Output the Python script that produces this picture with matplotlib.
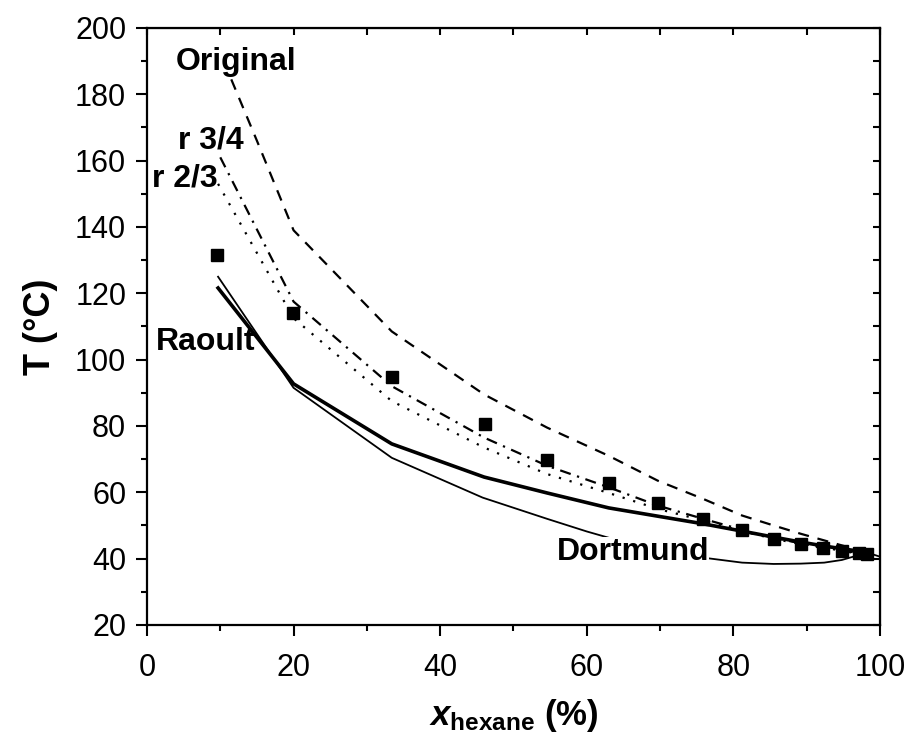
import numpy as np
import matplotlib.pyplot as plt
from matplotlib.ticker import MultipleLocator

plt.rcParams['font.family'] = ['Liberation Sans', 'DejaVu Sans']
plt.rcParams['mathtext.fontset'] = 'custom'
plt.rcParams['mathtext.rm'] = 'Liberation Sans:bold'
plt.rcParams['mathtext.it'] = 'Liberation Sans:bold:italic'

# experimental points
x_exp = [9.5, 19.9, 33.4, 46.1, 54.6, 63.0, 69.7, 75.9, 81.2, 85.5, 89.2, 92.3, 94.8, 97.1, 98.2]
T_exp = [131.6, 114.1, 94.8, 80.5, 69.8, 62.8, 56.8, 52.1, 48.6, 46.0, 44.4, 43.1, 42.3, 41.7, 41.4]

# model curves
x_orig = [11.5, 15.0, 20.0, 33.4, 46.0, 54.6, 63.0, 69.7, 75.9, 81.2, 85.5, 89.2, 92.4, 94.8, 97.0, 98.2]
T_orig = [184.5, 166.0, 139.0, 108.5, 89.5, 79.5, 71.0, 63.5, 58.0, 53.0, 50.0, 47.5, 45.5, 44.0, 42.6, 41.7]

x_r34 = [10.0, 20.0, 33.4, 46.0, 54.6, 63.0, 69.7, 75.9, 81.2, 85.5, 89.2, 92.4, 94.8, 97.0, 98.2]
T_r34 = [161.0, 117.5, 92.0, 76.5, 68.0, 61.5, 56.0, 52.0, 48.7, 46.3, 44.6, 43.3, 42.4, 41.8, 41.4]

x_r23 = [9.7, 20.0, 33.4, 46.0, 54.6, 63.0, 69.7, 75.9, 81.2, 85.5, 89.2, 92.4, 94.8, 97.0, 98.2]
T_r23 = [153.0, 112.5, 87.5, 73.5, 65.5, 59.8, 55.0, 51.5, 48.3, 46.0, 44.4, 43.1, 42.3, 41.6, 41.3]

x_raoult = [9.7, 20.0, 33.4, 46.0, 54.6, 63.0, 69.7, 75.9, 81.2, 85.5, 89.2, 92.4, 94.8, 97.0, 98.2]
T_raoult = [121.6, 92.7, 74.6, 64.6, 59.8, 55.3, 52.8, 50.5, 48.3, 46.5, 45.0, 43.8, 43.0, 42.3, 42.0]

x_dort = [9.7, 20.0, 33.4, 45.8, 54.6, 60.0, 63.0, 69.7, 75.9, 81.2, 85.5, 89.2, 92.4, 94.8, 97.0, 98.6, 100.0]
T_dort = [125.0, 91.5, 70.4, 58.4, 52.0, 48.2, 46.3, 42.8, 40.3, 38.8, 38.4, 38.5, 38.8, 39.6, 41.0, 41.6, 40.6]

fig = plt.figure(figsize=(9.09, 7.42), dpi=100)
ax = fig.add_axes([0.1617, 0.1577, 0.8063, 0.8046])

ax.plot(x_orig, T_orig, color='black', lw=1.6, linestyle=(0, (5, 4)))
ax.plot(x_r34, T_r34, color='black', lw=1.6, linestyle=(0, (5, 3, 1, 3)))
ax.plot(x_r23, T_r23, color='black', lw=1.6, linestyle=(0, (1, 4)))
ax.plot(x_dort, T_dort, color='black', lw=1.3)
ax.plot(x_raoult, T_raoult, color='black', lw=2.6)
ax.plot(x_exp, T_exp, 's', color='black', markersize=8, zorder=5)

tkw = dict(fontsize=23, fontweight='bold', ha='center', va='center')
ax.text(12.1, 189.7, 'Original', **tkw)
ax.text(8.7, 166.2, 'r 3/4', **tkw)
ax.text(5.1, 154.5, 'r 2/3', **tkw)
ax.text(8.0, 105.3, 'Raoult', **tkw)
ax.text(66.3, 42.0, 'Dortmund', zorder=6,
        bbox=dict(facecolor='white', edgecolor='none', pad=0.3), **tkw)

ax.set_xlim(0, 100)
ax.set_ylim(20, 200)
ax.xaxis.set_major_locator(MultipleLocator(20))
ax.xaxis.set_minor_locator(MultipleLocator(10))
ax.yaxis.set_major_locator(MultipleLocator(20))
ax.yaxis.set_minor_locator(MultipleLocator(10))
ax.tick_params(which='major', direction='out', length=8, width=1.5, labelsize=22)
ax.tick_params(axis='x', which='major', pad=12)
ax.tick_params(axis='y', which='major', pad=7)
ax.tick_params(which='minor', direction='out', length=4, width=1.5)
for s in ax.spines.values():
    s.set_linewidth(1.6)

top = ax.secondary_xaxis('top')
top.xaxis.set_major_locator(MultipleLocator(10))
top.tick_params(direction='in', length=5, width=1.5, labeltop=False)
right = ax.secondary_yaxis('right')
right.yaxis.set_major_locator(MultipleLocator(10))
right.tick_params(direction='in', length=5, width=1.5, labelright=False)

ax.set_xlabel(r'$\mathit{x}_{\mathrm{hexane}}$ (%)', fontsize=25, fontweight='bold', labelpad=10)
ax.set_ylabel('T (°C)', fontsize=26, fontweight='bold', labelpad=12)

fig.savefig('out.png', dpi=100)
